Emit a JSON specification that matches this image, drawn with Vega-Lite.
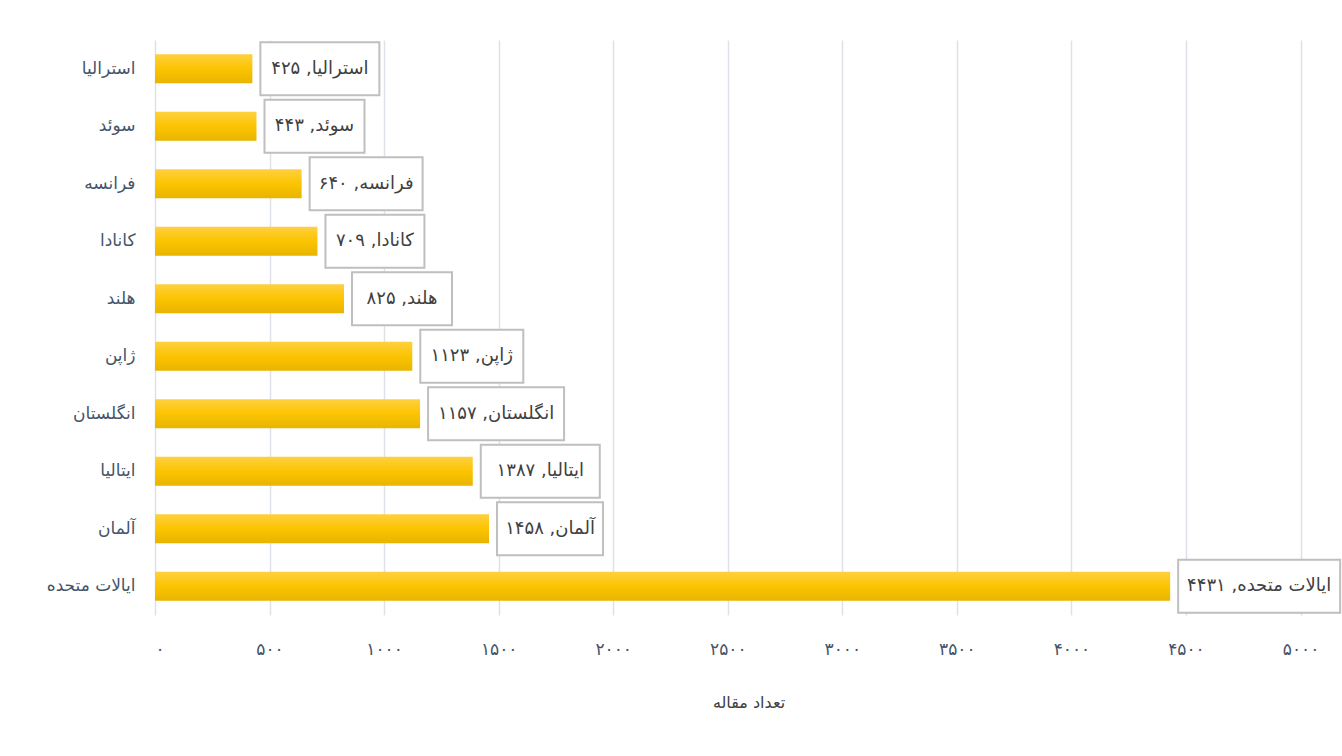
{
  "$schema": "https://vega.github.io/schema/vega-lite/v6.json",
  "width": 1187,
  "height": 575,
  "autosize": {"type": "none"},
  "padding": {"left": 155, "top": 40, "right": 0, "bottom": 141},
  "background": "white",
  "config": {"font": "DejaVu Sans", "view": {"stroke": null}},
  "data": {
    "values": [
      {"country": "استرالیا", "count": 425, "label": "استرالیا, ۴۲۵"},
      {"country": "سوئد", "count": 443, "label": "سوئد, ۴۴۳"},
      {"country": "فرانسه", "count": 640, "label": "فرانسه, ۶۴۰"},
      {"country": "کانادا", "count": 709, "label": "کانادا, ۷۰۹"},
      {"country": "هلند", "count": 825, "label": "هلند, ۸۲۵"},
      {"country": "ژاپن", "count": 1123, "label": "ژاپن, ۱۱۲۳"},
      {"country": "انگلستان", "count": 1157, "label": "انگلستان, ۱۱۵۷"},
      {"country": "ایتالیا", "count": 1387, "label": "ایتالیا, ۱۳۸۷"},
      {"country": "آلمان", "count": 1458, "label": "آلمان, ۱۴۵۸"},
      {"country": "ایالات متحده", "count": 4431, "label": "ایالات متحده, ۴۴۳۱"}
    ]
  },
  "encoding": {
    "y": {
      "field": "country",
      "type": "nominal",
      "sort": ["استرالیا", "سوئد", "فرانسه", "کانادا", "هلند", "ژاپن", "انگلستان", "ایتالیا", "آلمان", "ایالات متحده"],
      "scale": {"paddingInner": 0.5, "paddingOuter": 0.25},
      "axis": {
        "title": null,
        "domain": false,
        "ticks": false,
        "grid": false,
        "labelPadding": 20,
        "labelFontSize": 17,
        "labelColor": "#44546a"
      }
    },
    "x": {
      "field": "count",
      "type": "quantitative",
      "scale": {"domain": [0, 5181], "nice": false, "zero": true},
      "axis": {
        "values": [0, 500, 1000, 1500, 2000, 2500, 3000, 3500, 4000, 4500, 5000],
        "labelExpr": "replace(replace(replace(replace(replace(replace(format(datum.value,'d'),regexp('0','g'),'۰'),regexp('1','g'),'۱'),regexp('2','g'),'۲'),regexp('3','g'),'۳'),regexp('4','g'),'۴'),regexp('5','g'),'۵')",
        "grid": true,
        "gridColor": "#dde1e8",
        "gridWidth": 1.5,
        "domain": false,
        "ticks": false,
        "labelFontSize": 17,
        "labelColor": "#44546a",
        "labelPadding": 26,
        "title": "تعداد مقاله",
        "titleFontSize": 16,
        "titleFontWeight": "normal",
        "titleColor": "#404040",
        "titlePadding": 37
      }
    }
  },
  "layer": [
    {
      "mark": {
        "type": "bar",
        "size": 29,
        "color": {
          "gradient": "linear",
          "x1": 0, "y1": 0, "x2": 0, "y2": 1,
          "stops": [
            {"offset": 0, "color": "#ffd040"},
            {"offset": 0.5, "color": "#fcc400"},
            {"offset": 1, "color": "#e8b400"}
          ]
        }
      }
    },
    {
      "mark": {
        "type": "bar",
        "size": 53,
        "fill": "white",
        "stroke": "#bfbfbf",
        "strokeWidth": 2,
        "xOffset": 8,
        "x2Offset": {"expr": "8 + 24 + 3*length(datum.label) + 7*length(replace(datum.label, regexp('[اآ, ]','g'), ''))"}
      },
      "encoding": {"x2": {"field": "count"}}
    },
    {
      "mark": {
        "type": "text",
        "align": "center",
        "baseline": "middle",
        "dx": {"expr": "8 + (24 + 3*length(datum.label) + 7*length(replace(datum.label, regexp('[اآ, ]','g'), '')))/2"},
        "fontSize": 18,
        "color": "#404040"
      },
      "encoding": {"text": {"field": "label"}}
    }
  ]
}
